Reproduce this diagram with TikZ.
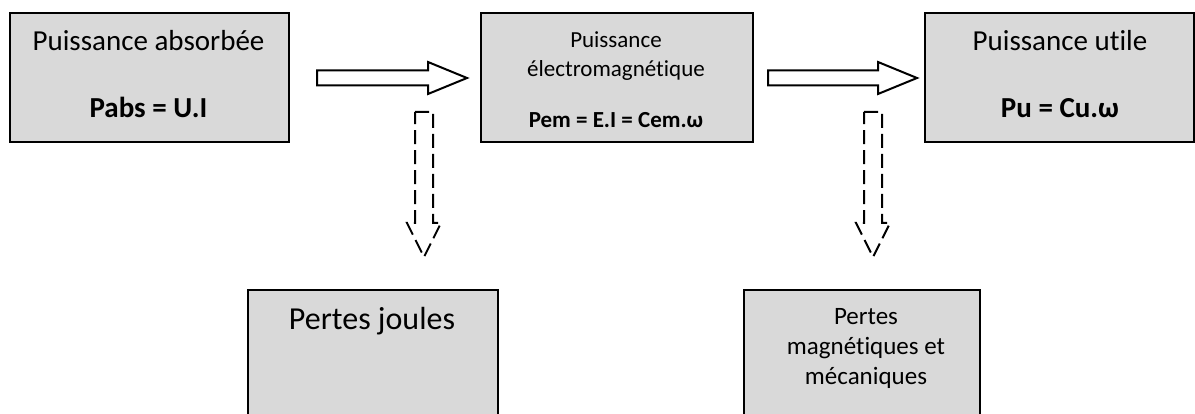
\documentclass[tikz,border=0pt]{standalone}
\usepackage{fontspec}
\setmainfont{Carlito}[Ligatures={NoCommon}]
\definecolor{boxgray}{HTML}{D9D9D9}
\newcommand{\nolig}{\kern0pt}
\begin{document}
\begin{tikzpicture}[x=1pt,y=-1pt,
  box/.style={draw=black, line width=2pt, fill=boxgray, inner sep=0pt, anchor=north west},
  big/.style={font=\fontsize{29}{34}\selectfont, anchor=base, inner sep=0pt},
  bigb/.style={font=\fontsize{29}{34}\selectfont\bfseries, anchor=base, inner sep=0pt},
  small/.style={font=\fontsize{23}{29}\selectfont, anchor=base, inner sep=0pt},
  smallb/.style={font=\fontsize{23}{29}\selectfont\bfseries, anchor=base, inner sep=0pt},
  mid/.style={font=\fontsize{25}{30}\selectfont, anchor=base, inner sep=0pt},
  blockarrow/.style={draw=black, line width=2pt, fill=white, line join=miter},
  dasharrow/.style={draw=black, line width=2pt, dash pattern=on 14pt off 6pt}]
\clip (0,0) rectangle (1195,414);
% top boxes
\node[box, minimum width=279pt, minimum height=129pt] (pa) at (9,12) {};
\node[box, minimum width=272pt, minimum height=129pt] (pem) at (480,12) {};
\node[box, minimum width=269pt, minimum height=129pt] (pu) at (924,12) {};
% bottom boxes
\node[box, minimum width=250pt, minimum height=160pt] (pj) at (247,289) {};
\node[box, minimum width=236pt, minimum height=160pt] (pm) at (743,289) {};
% texts
\node[big] (t1) at (148.5,51) {Puissance absorbée};
\node[bigb] (t2) at (148.5,118) {Pabs = U.I};
\node[small] (t3) at (616,48) {Puissance};
\node[small] (t4) at (616,77) {électromagnét\nolig ique};
\node[smallb] (t5) at (616,128) {Pem = E.I = Cem.ω};
\node[big] (t6) at (1060,51) {Puissance ut\nolig ile};
\node[bigb] (t7) at (1060,118) {Pu = Cu.ω};
\node[font=\fontsize{32}{38}\selectfont, anchor=base, inner sep=0pt] (t8) at (372,330) {Pertes joules};
\node[mid] (t9) at (866,325) {Pertes};
\node[mid] (t10) at (866,355) {magnét\nolig iques et};
\node[mid] (t11) at (866,384) {mécaniques};
% block arrows between top boxes
\coordinate (a1) at (317,78);
\coordinate (a2) at (768,78);
\draw[blockarrow] (a1) ++(0,-7.5) -- ++(111,0) -- ++(0,-8.5) -- ++(39,16) -- ++(-39,16) -- ++(0,-8.5) -- ++(-111,0) -- cycle;
\draw[blockarrow] (a2) ++(0,-7.5) -- ++(110,0) -- ++(0,-8.5) -- ++(39,16) -- ++(-39,16) -- ++(0,-8.5) -- ++(-110,0) -- cycle;
% dashed arrows to the losses
\coordinate (d1) at (424,112);
\coordinate (d2) at (873,112);
\draw[dasharrow] (d1) ++(-9,0) -- ++(18,0) -- ++(0,111) -- ++(8,0) -- ++(-17,34) -- ++(-17,-34) -- ++(8,0) -- cycle;
\draw[dasharrow] (d2) ++(-9,0) -- ++(18,0) -- ++(0,111) -- ++(8,0) -- ++(-17,34) -- ++(-17,-34) -- ++(8,0) -- cycle;
\end{tikzpicture}
\end{document}
